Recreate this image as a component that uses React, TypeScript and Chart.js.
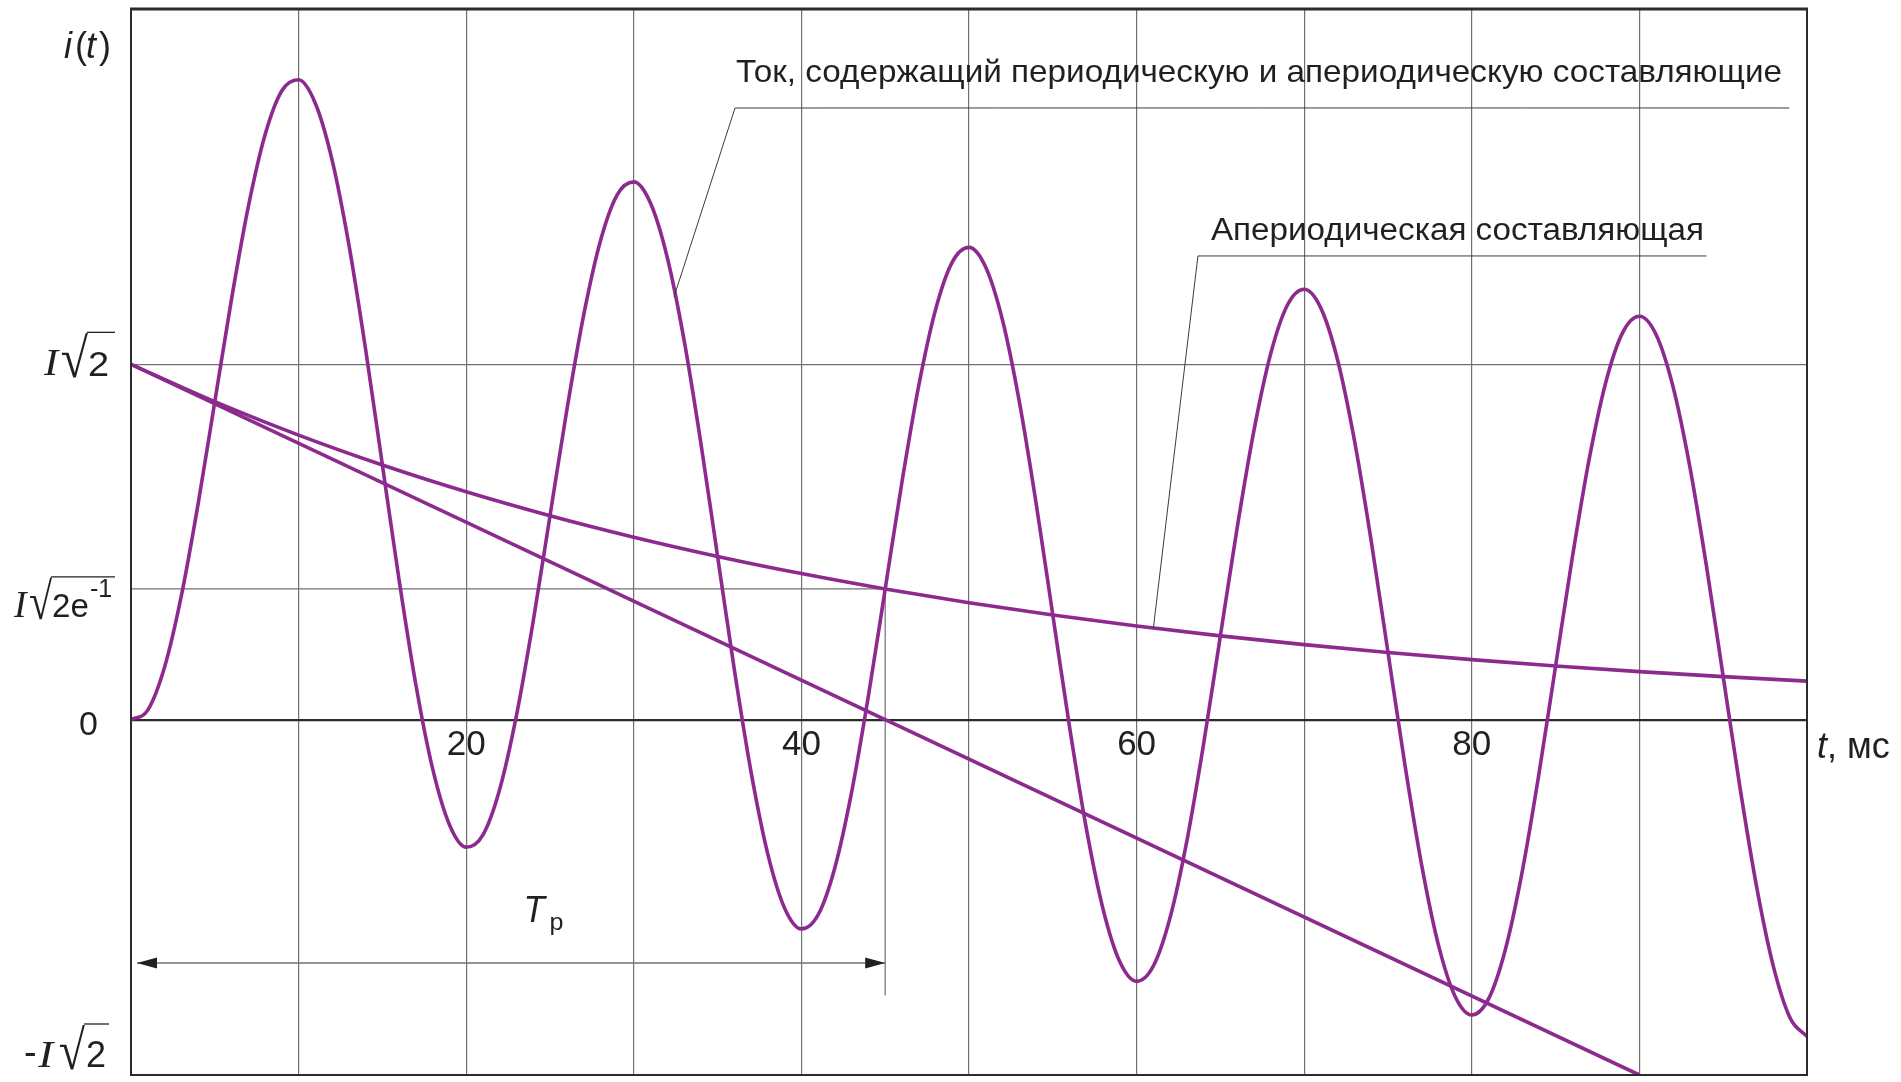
import { useEffect, useRef } from "react";
import { Chart, registerables } from "chart.js";
import type { Plugin } from "chart.js";

Chart.register(...registerables);

// time axis, ms
const timeMs = [
	0, 1, 2, 3, 4, 5, 6, 7, 8, 9, 10, 11, 12, 13, 14, 15, 16, 17, 18, 19, 20,
	21, 22, 23, 24, 25, 26, 27, 28, 29, 30, 31, 32, 33, 34, 35, 36, 37, 38, 39, 40,
	41, 42, 43, 44, 45, 46, 47, 48, 49, 50, 51, 52, 53, 54, 55, 56, 57, 58, 59, 60,
	61, 62, 63, 64, 65, 66, 67, 68, 69, 70, 71, 72, 73, 74, 75, 76, 77, 78, 79, 80,
	81, 82, 83, 84, 85, 86, 87, 88, 89, 90, 91, 92, 93, 94, 95, 96, 97, 98, 99, 100,
];

// full current i(t), in units of I√2
const totalCurrent = [
	0, 0.0269, 0.1475, 0.3477, 0.6059, 0.8948, 1.1842, 1.4437, 1.6461, 1.7698, 1.8007,
	1.7342, 1.5749, 1.3369, 1.0416, 0.7165, 0.3918, 0.0976, -0.1387, -0.2955, -0.3588,
	-0.324, -0.1957, 0.012, 0.2776, 0.5738, 0.8702, 1.1366, 1.3458, 1.4761, 1.5134,
	1.4533, 1.3001, 1.0681, 0.7788, 0.4594, 0.1403, -0.1483, -0.3792, -0.5307, -0.5889,
	-0.549, -0.4158, -0.2032, 0.0671, 0.3679, 0.6688, 0.9397, 1.1531, 1.2877, 1.3292,
	1.273, 1.1239, 0.8957, 0.6102, 0.2946, -0.0209, -0.306, -0.5334, -0.6816, -0.7364,
	-0.6933, -0.5569, -0.3412, -0.0678, 0.2359, 0.5397, 0.8134, 1.0297, 1.1669, 1.2111,
	1.1575, 1.0109, 0.7852, 0.5021, 0.1889, -0.1243, -0.4072, -0.6323, -0.7783, -0.831,
	-0.7858, -0.6474, -0.4297, -0.1544, 0.1512, 0.4569, 0.7324, 0.9504, 1.0894, 1.1353,
	1.0834, 0.9384, 0.7144, 0.4328, 0.1211, -0.1906, -0.472, -0.6957, -0.8403, -0.8916,
];

// aperiodic component
const aperiodicTime = [0, 5, 10, 15, 20, 25, 30, 35, 40, 45, 50, 55, 60, 65, 70, 75, 80, 85, 90, 95, 100];
const aperiodicCurrent = [
	1, 0.8948, 0.8007, 0.7165, 0.6412, 0.5738, 0.5134, 0.4594, 0.4111, 0.3679, 0.3292,
	0.2946, 0.2636, 0.2359, 0.2111, 0.1889, 0.169, 0.1512, 0.1353, 0.1211, 0.1084,
];

// tangent to the aperiodic component at t = 0
const tangentTime = [0, 90];
const tangentCurrent = [1, -1];

const xTickLabels = [20, 40, 60, 80];
const yTickValues = [-1, 0, 0.3679, 1, 2];
const expLevel = 0.3679;
const timeConstant = 45;

const SANS = '"Liberation Sans", Arial, sans-serif';
const SERIF = '"Liberation Serif", "Times New Roman", serif';
const INK = "#231f20";
const GRID = "#707070";
const LEADER = "#3c3c3c";
const PURPLE = "#8c2a8d";

// draws text so that its ink box fills the given rectangle
function fitInk(ctx: CanvasRenderingContext2D, text: string, font: string, l: number, t: number, r: number, b: number) {
	ctx.save();
	ctx.font = font;
	ctx.textAlign = "left";
	ctx.textBaseline = "alphabetic";
	const m = ctx.measureText(text);
	const w = m.actualBoundingBoxLeft + m.actualBoundingBoxRight;
	const h = m.actualBoundingBoxAscent + m.actualBoundingBoxDescent;
	ctx.translate(l, t);
	ctx.scale((r - l) / w, (b - t) / h);
	ctx.fillText(text, m.actualBoundingBoxLeft, m.actualBoundingBoxAscent);
	ctx.restore();
}

function fitWidth(ctx: CanvasRenderingContext2D, text: string, font: string, x: number, y: number, width: number) {
	ctx.save();
	ctx.font = font;
	ctx.textAlign = "left";
	ctx.textBaseline = "alphabetic";
	const w = ctx.measureText(text).width;
	ctx.translate(x, y);
	ctx.scale(width / w, 1);
	ctx.fillText(text, 0, 0);
	ctx.restore();
}

function polyline(ctx: CanvasRenderingContext2D, pts: number[][], color: string, width: number) {
	ctx.save();
	ctx.strokeStyle = color;
	ctx.lineWidth = width;
	ctx.beginPath();
	pts.forEach(([px, py], i) => (i ? ctx.lineTo(px, py) : ctx.moveTo(px, py)));
	ctx.stroke();
	ctx.restore();
}

function arrowHead(ctx: CanvasRenderingContext2D, tipX: number, y: number, dir: number) {
	ctx.save();
	ctx.fillStyle = INK;
	ctx.beginPath();
	ctx.moveTo(tipX, y);
	ctx.lineTo(tipX - dir * 20, y - 5.5);
	ctx.lineTo(tipX - dir * 20, y + 5.5);
	ctx.closePath();
	ctx.fill();
	ctx.restore();
}

const italicSerif = `italic 40px ${SERIF}`;
const radicalFont = `40px ${SERIF}`;
const digitFont = `34px ${SANS}`;
const supFont = `22px ${SANS}`;

// y label glyphs: [text, font, x1, dy1, x2, dy2], dy relative to the tick pixel
type Part = [string, string, number, number, number, number];
const yLabelParts: { value: number; parts: Part[]; bar: [number, number, number] }[] = [
	{
		value: 1,
		parts: [
			["I", italicSerif, 43, -13, 60, 11],
			["√", radicalFont, 62, -32, 88, 14],
			["2", digitFont, 89, -12, 108, 12],
		],
		bar: [87, 115, -32],
	},
	{
		value: expLevel,
		parts: [
			["I", italicSerif, 13, 4, 28, 28],
			["√", radicalFont, 30, -12, 52, 31],
			["2e", digitFont, 53, 6, 88, 28],
			["-1", supFont, 90, -9, 112, 8],
		],
		bar: [51, 115, -12],
	},
	{
		value: -1,
		parts: [
			["-", digitFont, 25, -23, 35, -19.5],
			["I", italicSerif, 37, -33, 55, -8],
			["√", radicalFont, 60, -51, 85, -5],
			["2", digitFont, 87, -33, 105, -8],
		],
		bar: [84, 109, -51],
	},
];

const diagramPlugin: Plugin<"line"> = {
	id: "diagram",
	beforeDraw(chart) {
		const { ctx, width, height } = chart;
		ctx.save();
		ctx.fillStyle = "#ffffff";
		ctx.fillRect(0, 0, width, height);
		ctx.restore();
	},
	beforeDatasetsDraw(chart) {
		const { ctx } = chart;
		const x = chart.scales.x;
		const y = chart.scales.y;
		const x0 = x.getPixelForValue(0);
		const xT = x.getPixelForValue(timeConstant);
		const yE = y.getPixelForValue(expLevel);
		polyline(ctx, [[x0, yE], [xT, yE]], GRID, 1.2);
		polyline(ctx, [[xT, yE], [xT, y.getPixelForValue(-0.776)]], GRID, 1.2);

		// Tp dimension arrow
		const yA = y.getPixelForValue(-0.685);
		polyline(ctx, [[x0 + 6, yA], [xT, yA]], "#7b6d7b", 1.5);
		arrowHead(ctx, x0 + 6, yA, -1);
		arrowHead(ctx, xT, yA, 1);
	},
	afterDatasetsDraw(chart) {
		const { ctx, chartArea: a } = chart;
		const x = chart.scales.x;
		const y = chart.scales.y;
		const px = (t: number) => x.getPixelForValue(t);
		const py = (v: number) => y.getPixelForValue(v);

		// frame
		ctx.save();
		ctx.strokeStyle = "#2b2b2b";
		ctx.lineWidth = 2;
		ctx.strokeRect(a.left, a.top, a.right - a.left, a.bottom - a.top);
		ctx.lineWidth = 3.2;
		ctx.beginPath();
		ctx.moveTo(a.left - 1, a.top);
		ctx.lineTo(a.right + 1, a.top);
		ctx.stroke();
		ctx.restore();

		// leader lines
		const c1x = px(36.04);
		const c1y = py(1.7214);
		polyline(ctx, [[px(32.4), py(1.19)], [c1x, c1y], [px(98.95), c1y]], LEADER, 1);
		const c2x = px(63.66);
		const c2y = py(1.305);
		polyline(ctx, [[px(61), py(0.2578)], [c2x, c2y], [px(94), c2y]], LEADER, 1);

		ctx.fillStyle = INK;
		fitWidth(ctx, "Ток, содержащий периодическую и апериодическую составляющие", `32px ${SANS}`, c1x + 1, c1y - 26, 1046);
		fitWidth(ctx, "Апериодическая составляющая", `31px ${SANS}`, c2x + 13, c2y - 16, 493);

		// Tp
		const tpx = px(23.6);
		const tpy = py(-0.57);
		fitInk(ctx, "T", `italic 35px ${SANS}`, tpx, tpy - 25, tpx + 21, tpy);
		fitInk(ctx, "p", `23px ${SANS}`, tpx + 24, tpy - 5, tpx + 36, tpy + 13);

		// x tick labels on the zero line
		const yZero = py(0);
		ctx.save();
		ctx.font = `35px ${SANS}`;
		ctx.textAlign = "center";
		ctx.textBaseline = "alphabetic";
		xTickLabels.forEach((t) => ctx.fillText(String(t), px(t), yZero + 35));
		ctx.restore();

		// x axis title
		ctx.save();
		ctx.textBaseline = "alphabetic";
		ctx.textAlign = "left";
		ctx.font = `italic 36px ${SANS}`;
		const tx = a.right + 10;
		ctx.fillText("t", tx, yZero + 38);
		const tw = ctx.measureText("t").width;
		ctx.font = `36px ${SANS}`;
		ctx.fillText(", мс", tx + tw, yZero + 38);
		ctx.restore();

		// y axis title i(t)
		ctx.save();
		ctx.textBaseline = "alphabetic";
		ctx.textAlign = "left";
		const titleParts: [string, boolean, number][] = [
			["i", true, 64],
			["(", false, 75],
			["t", true, 86],
			[")", false, 99],
		];
		titleParts.forEach(([s, italic, sx]) => {
			ctx.font = `${italic ? "italic " : ""}36px ${SANS}`;
			ctx.fillText(s, sx, 58);
		});
		ctx.restore();

		// y tick labels
		ctx.save();
		ctx.font = digitFont;
		ctx.textAlign = "right";
		ctx.textBaseline = "alphabetic";
		ctx.fillText("0", 98, yZero + 15);
		ctx.restore();

		yLabelParts.forEach(({ value, parts, bar }) => {
			const y0 = py(value);
			parts.forEach(([text, font, x1, d1, x2, d2]) => fitInk(ctx, text, font, x1, y0 + d1, x2, y0 + d2));
			polyline(ctx, [[bar[0], y0 + bar[2]], [bar[1], y0 + bar[2]]], INK, 1.3);
		});
	},
};

export default function App() {
	const canvasRef = useRef<HTMLCanvasElement>(null);
	const chartInstance = useRef<Chart | null>(null);

	useEffect(() => {
		if (!canvasRef.current) return;

		if (chartInstance.current) {
			chartInstance.current.destroy();
		}

		const lineStyle = {
			borderColor: PURPLE,
			borderWidth: 3.6,
			pointRadius: 0,
			fill: false,
		};

		chartInstance.current = new Chart(canvasRef.current, {
			type: "line",
			data: {
				datasets: [
					{
						label: "Ток, содержащий периодическую и апериодическую составляющие",
						data: timeMs.map((t, i) => ({ x: t, y: totalCurrent[i] })),
						cubicInterpolationMode: "monotone",
						...lineStyle,
					},
					{
						label: "Апериодическая составляющая",
						data: aperiodicTime.map((t, i) => ({ x: t, y: aperiodicCurrent[i] })),
						cubicInterpolationMode: "monotone",
						...lineStyle,
					},
					{
						label: "Касательная",
						data: tangentTime.map((t, i) => ({ x: t, y: tangentCurrent[i] })),
						...lineStyle,
					},
				],
			},
			options: {
				responsive: false,
				animation: false,
				events: [],
				layout: {
					padding: { left: 131, right: 94, top: 9, bottom: 7 },
				},
				plugins: {
					legend: { display: false },
					tooltip: { enabled: false },
				},
				scales: {
					x: {
						type: "linear",
						min: 0,
						max: 100,
						ticks: { display: false, stepSize: 10 },
						grid: {
							drawTicks: false,
							lineWidth: 1.2,
							color: (c) =>
								c.tick && (c.tick.value === 0 || c.tick.value === 100) ? "rgba(0,0,0,0)" : GRID,
						},
						border: { display: false },
					},
					y: {
						type: "linear",
						min: -1,
						max: 2,
						afterBuildTicks: (scale) => {
							scale.ticks = yTickValues.map((value) => ({ value }));
						},
						ticks: { display: false },
						grid: {
							drawTicks: false,
							lineWidth: (c) => (c.tick && c.tick.value === 0 ? 2.2 : 1.2),
							color: (c) => {
								if (!c.tick) return "rgba(0,0,0,0)";
								if (c.tick.value === 0) return "#2b2b2b";
								if (c.tick.value === 1) return GRID;
								return "rgba(0,0,0,0)";
							},
						},
						border: { display: false },
					},
				},
			},
			plugins: [diagramPlugin],
		});

		return () => {
			if (chartInstance.current) {
				chartInstance.current.destroy();
				chartInstance.current = null;
			}
		};
	}, []);

	return (
		<div style={{ position: "absolute", left: 0, top: 0, width: 1901, height: 1082, background: "#fff" }}>
			<canvas ref={canvasRef} width={1901} height={1082} style={{ display: "block" }} />
		</div>
	);
}
